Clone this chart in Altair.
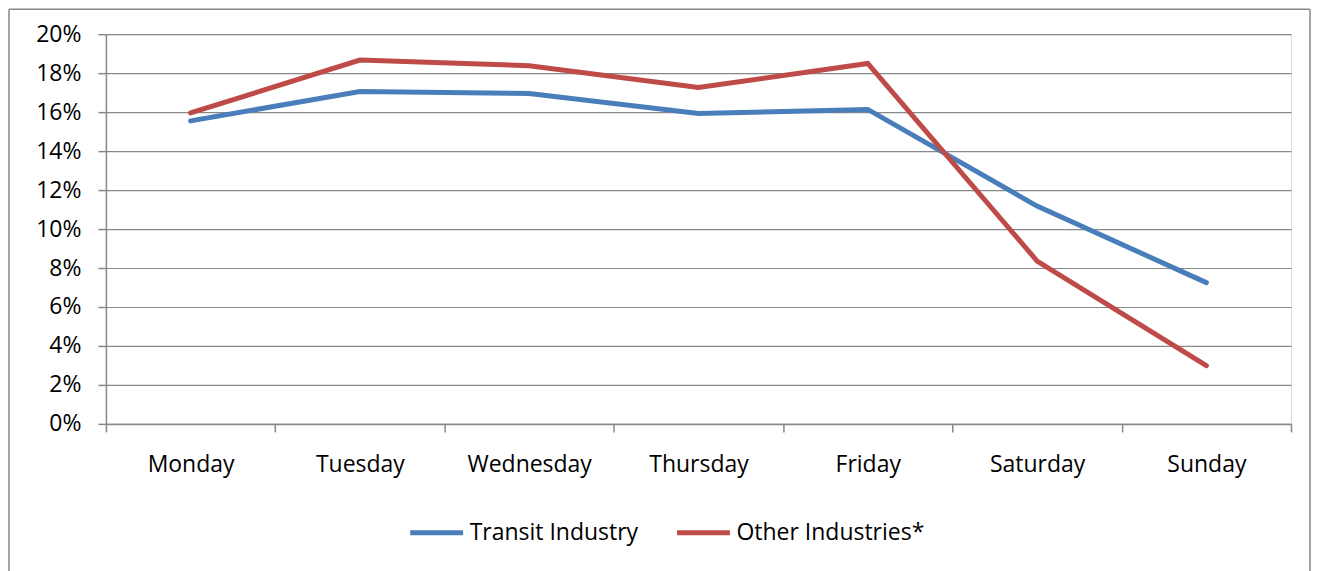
import altair as alt
import pandas as pd

days = ["Monday", "Tuesday", "Wednesday", "Thursday", "Friday", "Saturday", "Sunday"]
transit = [0.1555, 0.1706, 0.1696, 0.1593, 0.1614, 0.1118, 0.0725]
other = [0.1596, 0.1867, 0.1838, 0.1726, 0.1850, 0.0836, 0.0299]
series = ["Transit Industry", "Other Industries*"]
colors = ["#4A7EBB", "#BE4B48"]

rows = []
for d, t, o in zip(days, transit, other):
    rows.append({"day": d, "series": series[0], "value": t})
    rows.append({"day": d, "series": series[1], "value": o})
df = pd.DataFrame(rows)

FONT = "Open Sans"
GRAY = "#888888"
W, H = 1186, 390

lines = alt.Chart(df).mark_line(strokeWidth=5, strokeCap="round", strokeJoin="miter").encode(
    x=alt.X("day:N", sort=days,
            scale=alt.Scale(type="band", paddingInner=0, paddingOuter=0),
            axis=alt.Axis(title=None, labelAngle=0, tickBand="extent", tickSize=8,
                          labelPadding=22, labelFontSize=23, labelFont=FONT, labelColor="#000",
                          domainColor=GRAY, tickColor=GRAY, domainWidth=1.5, tickWidth=1.5,
                          grid=False)),
    y=alt.Y("value:Q", scale=alt.Scale(domain=[0, 0.2], nice=False),
            axis=alt.Axis(title=None, format=".0%", values=[i / 50 for i in range(11)],
                          tickSize=8, labelPadding=17, labelFontSize=23, labelFont=FONT,
                          labelColor="#000", domainColor=GRAY, tickColor=GRAY,
                          domainWidth=1.5, tickWidth=1.5,
                          grid=True, gridColor=GRAY, gridWidth=1.2)),
    color=alt.Color("series:N", sort=series,
                    scale=alt.Scale(domain=series, range=colors),
                    legend=alt.Legend(title=None, orient="none", direction="horizontal",
                                      legendX=302, legendY=470,
                                      symbolType="stroke", symbolSize=2800, symbolStrokeWidth=5,
                                      labelFontSize=23, labelFont=FONT, labelColor="#000",
                                      labelOffset=4, columnPadding=28, labelLimit=0)),
    order=alt.Order("series:N"),
)

border_data = alt.Data(values=[{"k": 1}])
left = alt.Chart(border_data).mark_rule(color=GRAY, strokeWidth=1.5).encode(
    x=alt.value(-97), y=alt.value(-25), y2=alt.value(560))
top = alt.Chart(border_data).mark_rule(color=GRAY, strokeWidth=1.5).encode(
    x=alt.value(-97), x2=alt.value(1205), y=alt.value(-25))
right = alt.Chart(border_data).mark_rule(color=GRAY, strokeWidth=1.5).encode(
    x=alt.value(1205), y=alt.value(-25), y2=alt.value(560))

chart = alt.layer(lines, left, top, right).properties(
    width=W, height=H,
    autosize=alt.AutoSizeParams(type="none"),
    padding={"left": 98, "top": 26, "right": 20, "bottom": 150},
).configure_view(stroke=None).configure(background="white")

chart.save("out.html", embed_options={"renderer": "svg", "actions": False})
